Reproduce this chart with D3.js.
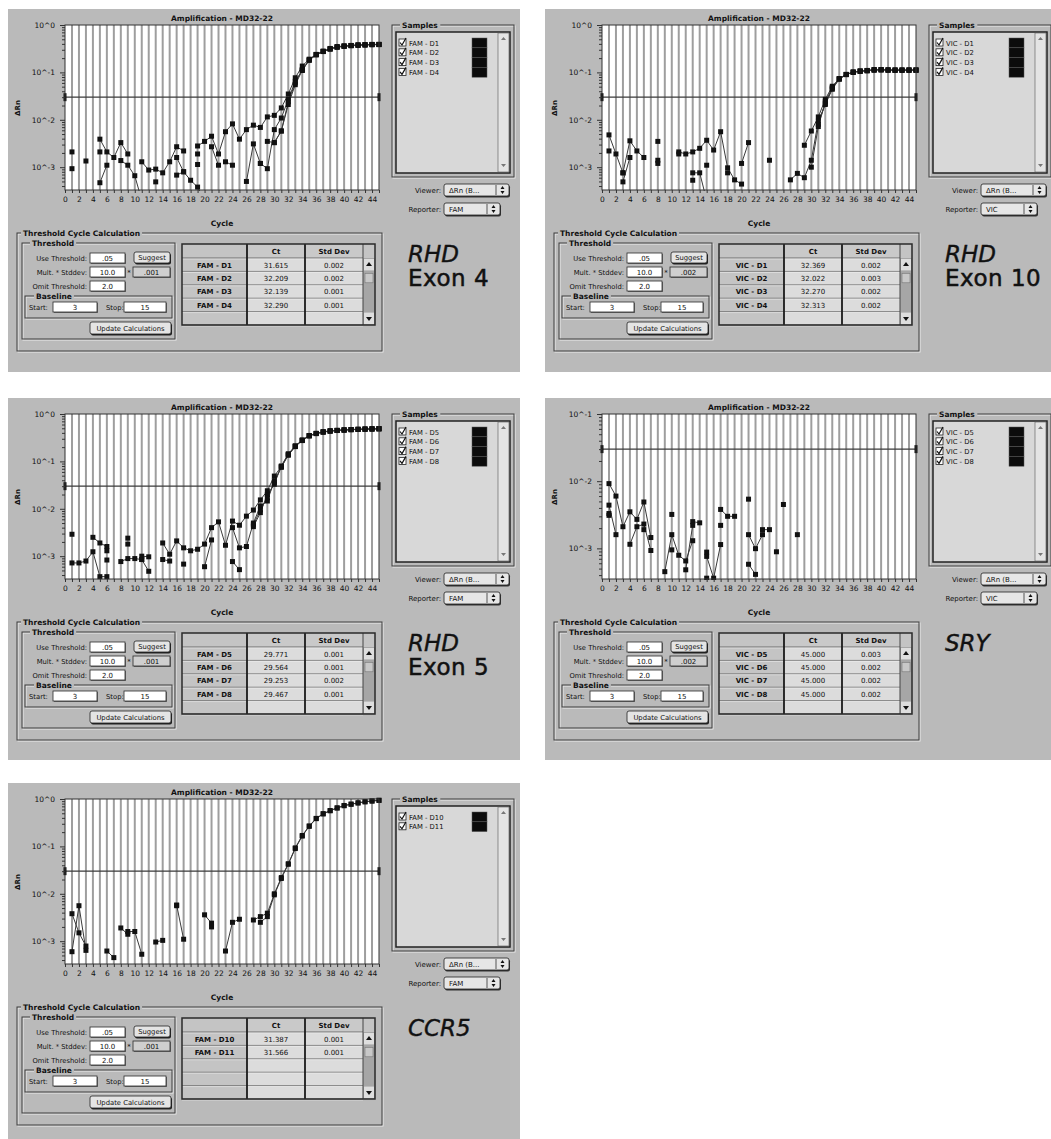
<!DOCTYPE html>
<html>
<head>
<meta charset="utf-8">
<script src="https://cdn.jsdelivr.net/npm/d3@7"></script>
<style>
  body { margin: 0; background: #fff; }
  svg text { font-family: "DejaVu Sans", sans-serif; fill: #111; }
</style>
</head>
<body>
<svg id="chart" width="1051" height="1139"></svg>
<script>
const N = null;
const cycles = d3.range(1, 46);
const xTicks = d3.range(0, 46);
const threshold = 0.03;
const titleText = 'Amplification - MD32-22';

// RHD exon 4 (FAM)
const exon4Names = ['FAM - D1', 'FAM - D2', 'FAM - D3', 'FAM - D4'];
const exon4Ct = ['31.615', '32.209', '32.139', '32.290'];
const exon4Sd = ['0.002', '0.002', '0.001', '0.001'];
const exon4D1 = [0.0021, N, 0.00135, N, 0.0039, 0.0021, 0.0016, 0.0033, 0.0019, N,
  0.0013, 0.00087, 0.00091, 0.00076, 0.0013, 0.0027, 0.0022, N, 0.0028, 0.0035,
  0.0045, 0.0019, 0.0056, 0.0082, 0.0039, 0.0062, 0.0077, 0.0069, 0.0115, 0.0124,
  0.0178, 0.035, 0.077, 0.136, 0.19, 0.24, 0.28, 0.32, 0.35, 0.36,
  0.37, 0.38, 0.385, 0.39, 0.39];
const exon4D2 = [0.00093, N, N, N, 0.00047, 0.0011, N, 0.00138, 0.0011, 0.00066,
  0.0002, N, 0.00049, N, N, 0.0016, 0.0008, 0.00053, 0.00038, 0.0002,
  N, N, 0.0013, 0.0011, N, 0.0005, 0.0031, 0.0012, 0.00093, 0.0062,
  0.0109, 0.027, 0.065, 0.11, 0.18, 0.235, 0.275, 0.31, 0.34, 0.355,
  0.365, 0.372, 0.378, 0.383, 0.385];
const exon4D3 = [N, N, N, N, 0.0021, N, N, N, N, N,
  N, N, N, N, N, 0.00068, 0.0008, N, 0.0019, N,
  0.0027, 0.0011, N, N, N, N, N, N, 0.0035, 0.0033,
  0.0058, 0.021, 0.055, 0.11, 0.185, 0.238, 0.278, 0.315, 0.345, 0.36,
  0.37, 0.378, 0.383, 0.388, 0.39];
const exon4D4 = [N, N, N, N, N, N, N, N, N, N,
  N, N, N, N, N, N, N, N, 0.00114, N,
  N, N, N, N, N, N, N, 0.0012, N, 0.0033,
  0.0058, 0.024, 0.06, 0.115, 0.182, 0.236, 0.277, 0.312, 0.342, 0.358,
  0.368, 0.376, 0.382, 0.386, 0.388];

// RHD exon 10 (VIC)
const exon10Names = ['VIC - D1', 'VIC - D2', 'VIC - D3', 'VIC - D4'];
const exon10Ct = ['32.369', '32.022', '32.270', '32.313'];
const exon10Sd = ['0.002', '0.003', '0.002', '0.002'];
const exon10D1 = [0.0048, 0.0019, 0.00076, 0.0036, 0.0022, 0.0016, N, 0.0035, N, N,
  0.0021, 0.0019, 0.0021, 0.0025, 0.0037, 0.0023, 0.0056, 0.00097, 0.00054, 0.00044,
  N, N, N, 0.0014, N, N, N, N, 0.0029, 0.0058,
  0.0115, 0.027, 0.051, 0.074, 0.091, 0.102, 0.107, 0.11, 0.115, 0.115,
  0.113, 0.112, 0.112, 0.112, 0.112];
const exon10D2 = [0.0022, N, 0.00049, 0.0016, N, N, N, 0.0014, N, N,
  0.0019, N, 0.00076, 0.00076, 0.0002, N, N, 0.00076, N, 0.0012,
  0.0033, N, N, N, N, N, 0.00054, 0.00074, 0.0006, 0.0014,
  0.0093, 0.021, 0.044, 0.072, 0.09, 0.1, 0.106, 0.108, 0.112, 0.113,
  0.112, 0.111, 0.111, 0.111, 0.111];
const exon10D3 = [N, N, 0.00076, N, N, N, N, 0.0012, N, N,
  N, N, 0.00053, N, 0.0011, N, N, N, N, N,
  N, N, N, N, N, N, N, N, N, 0.001,
  0.0072, 0.024, 0.048, 0.073, 0.09, 0.101, 0.106, 0.109, 0.113, 0.114,
  0.112, 0.112, 0.111, 0.112, 0.112];
const exon10D4 = [N, N, N, N, N, N, N, N, N, N,
  N, N, N, N, N, N, N, N, N, N,
  N, N, N, N, N, N, N, N, N, N,
  0.008, 0.022, 0.046, 0.073, 0.09, 0.101, 0.106, 0.109, 0.112, 0.113,
  0.112, 0.111, 0.112, 0.112, 0.112];

// RHD exon 5 (FAM)
const exon5Names = ['FAM - D5', 'FAM - D6', 'FAM - D7', 'FAM - D8'];
const exon5Ct = ['29.771', '29.564', '29.253', '29.467'];
const exon5Sd = ['0.001', '0.001', '0.002', '0.001'];
const exon5D5 = [0.0029, N, N, 0.0025, 0.0019, 0.0016, N, N, 0.0024, N,
  0.001, 0.00097, N, 0.0019, 0.0011, 0.0021, 0.0015, 0.0013, 0.0014, 0.0018,
  0.004, 0.0053, 0.0017, 0.0055, 0.0045, 0.007, 0.0094, 0.0154, 0.024, 0.049,
  0.078, 0.14, 0.21, 0.28, 0.35, 0.39, 0.42, 0.44, 0.45, 0.46,
  0.47, 0.475, 0.48, 0.485, 0.49];
const exon5D6 = [0.00072, 0.00072, 0.00079, 0.00124, 0.00037, 0.00037, N, 0.00077, 0.00089, 0.00089,
  0.00085, 0.00048, N, 0.00085, 0.00079, N, 0.00068, N, N, 0.0006,
  0.0022, N, N, 0.004, 0.0015, 0.0016, 0.005, 0.0115, 0.0146, 0.039,
  0.075, 0.135, 0.205, 0.275, 0.345, 0.385, 0.415, 0.435, 0.448, 0.458,
  0.466, 0.472, 0.478, 0.482, 0.486];
const exon5D7 = [N, N, N, N, N, 0.0013, N, N, 0.0018, N,
  0.00085, N, N, N, N, N, N, N, N, N,
  N, N, N, 0.00077, 0.00052, N, 0.0042, 0.0083, 0.02, 0.033,
  0.08, 0.145, 0.212, 0.282, 0.35, 0.39, 0.42, 0.44, 0.452, 0.462,
  0.47, 0.476, 0.481, 0.486, 0.49];
const exon5D8 = [N, N, N, N, N, 0.00083, N, N, N, N,
  N, N, N, N, N, N, N, N, N, N,
  N, N, N, N, N, N, 0.0046, 0.0095, 0.017, 0.036,
  0.077, 0.138, 0.208, 0.278, 0.348, 0.388, 0.418, 0.438, 0.45, 0.46,
  0.468, 0.474, 0.479, 0.484, 0.488];

// SRY (VIC)
const sryNames = ['VIC - D5', 'VIC - D6', 'VIC - D7', 'VIC - D8'];
const sryCt = ['45.000', '45.000', '45.000', '45.000'];
const srySd = ['0.003', '0.002', '0.002', '0.002'];
const sryD5 = [0.0092, 0.006, 0.0021, 0.0035, 0.0027, 0.0049, 0.00145, N, N, 0.0032,
  N, N, 0.0025, 0.0024, N, N, 0.0038, 0.003, 0.003, N,
  0.0054, N, 0.0019, 0.0019, N, 0.0045, N, 0.0016, N, N,
  N, N, N, N, N, N, N, N, N, N,
  N, N, N, N, N];
const sryD6 = [0.0044, 0.0016, N, 0.00115, 0.0021, 0.0023, 0.00093, N, 0.00045, 0.0016,
  0.00079, 0.00065, 0.0013, N, 0.00088, N, 0.0022, N, N, N,
  0.0016, 0.00099, 0.0016, N, 0.00089, N, N, N, N, N,
  N, N, N, N, N, N, N, N, N, N,
  N, N, N, N, N];
const sryD7 = [0.0033, N, N, N, N, 0.0019, N, N, N, 0.00095,
  N, 0.00048, 0.0022, N, 0.00076, 0.00036, 0.00114, N, N, N,
  0.00058, 0.00041, N, N, N, N, N, N, N, N,
  N, N, N, N, N, N, N, N, N, N,
  N, N, N, N, N];
const sryD8 = [0.0031, N, N, N, N, N, N, N, N, N,
  N, N, N, N, 0.00036, N, N, N, N, N,
  N, N, N, N, N, N, N, N, N, N,
  N, N, N, N, N, N, N, N, N, N,
  N, N, N, N, N];

// CCR5 (FAM)
const ccr5Names = ['FAM - D10', 'FAM - D11'];
const ccr5Ct = ['31.387', '31.566'];
const ccr5Sd = ['0.001', '0.001'];
const ccr5D10 = [0.0038, 0.0015, 0.00079, N, N, 0.00062, 0.00045, N, 0.0016, 0.0016,
  0.00053, N, 0.00096, 0.00104, N, 0.0058, 0.0011, N, N, 0.0036,
  0.0024, N, 0.00062, 0.0025, 0.0029, N, 0.0028, 0.0033, 0.0039, 0.01,
  0.022, 0.043, 0.093, 0.17, 0.27, 0.39, 0.49, 0.57, 0.65, 0.73,
  0.78, 0.83, 0.88, 0.91, 0.94];
const ccr5D11 = [0.0006, 0.0056, 0.00064, N, N, N, N, 0.0019, 0.0014, N,
  N, N, N, N, N, 0.0056, N, N, N, N,
  0.002, N, N, N, N, N, N, 0.0025, 0.0033, 0.0095,
  0.021, 0.042, 0.09, 0.165, 0.265, 0.385, 0.485, 0.565, 0.645, 0.72,
  0.775, 0.825, 0.87, 0.905, 0.935];

const panels = [
  { box: {x: 8, y: 9, w: 512, h: 363}, yDomain: [0.00033, 1], reporter: 'FAM', mult: '.001',
    names: exon4Names, ct: exon4Ct, sd: exon4Sd, series: [exon4D1, exon4D2, exon4D3, exon4D4],
    label: ['RHD', 'Exon 4'] },
  { box: {x: 545, y: 9, w: 506, h: 363}, yDomain: [0.00033, 1], reporter: 'VIC', mult: '.002',
    names: exon10Names, ct: exon10Ct, sd: exon10Sd, series: [exon10D1, exon10D2, exon10D3, exon10D4],
    label: ['RHD', 'Exon 10'] },
  { box: {x: 8, y: 398, w: 512, h: 362}, yDomain: [0.00033, 1], reporter: 'FAM', mult: '.001',
    names: exon5Names, ct: exon5Ct, sd: exon5Sd, series: [exon5D5, exon5D6, exon5D7, exon5D8],
    label: ['RHD', 'Exon 5'] },
  { box: {x: 545, y: 398, w: 506, h: 362}, yDomain: [0.00035, 0.1], reporter: 'VIC', mult: '.002',
    names: sryNames, ct: sryCt, sd: srySd, series: [sryD5, sryD6, sryD7, sryD8],
    label: ['SRY'] },
  { box: {x: 8, y: 783, w: 512, h: 356}, yDomain: [0.00033, 1], reporter: 'FAM', mult: '.001',
    names: ccr5Names, ct: ccr5Ct, sd: ccr5Sd, series: [ccr5D10, ccr5D11],
    label: ['CCR5'] }
];

const svg = d3.select('#chart');
const BG = '#bababa';
const P = {l: 57, r: 371, t: 16, b: 181};

function txt(g, x, y, s, size, opts = {}) {
  return g.append('text').attr('x', x).attr('y', y).attr('font-size', size)
    .attr('font-weight', opts.bold ? 'bold' : null)
    .attr('text-anchor', opts.anchor || 'start').text(s);
}

// engraved group frame with a title sitting on the top edge
function frame(g, x, y, w, h, title, tx) {
  g.append('rect').attr('x', x + 1).attr('y', y + 1).attr('width', w).attr('height', h)
    .attr('fill', 'none').attr('stroke', '#ececec');
  g.append('rect').attr('x', x).attr('y', y).attr('width', w).attr('height', h)
    .attr('fill', 'none').attr('stroke', '#3c3c3c');
  if (title) {
    const t = txt(g, tx, y + 3, title, 7.5, {bold: true});
    const bb = t.node().getBBox();
    g.insert('rect', () => t.node()).attr('x', bb.x - 2).attr('y', y - 2)
      .attr('width', bb.width + 4).attr('height', 5).attr('fill', BG);
  }
}

function field(g, x, y, w, h, s, fill) {
  g.append('rect').attr('x', x + 1).attr('y', y + 1).attr('width', w).attr('height', h).attr('fill', '#6a6a6a');
  g.append('rect').attr('x', x).attr('y', y).attr('width', w).attr('height', h)
    .attr('fill', fill || '#fff').attr('stroke', '#2a2a2a').attr('stroke-width', 0.8);
  txt(g, x + w / 2, y + h - 2.2, s, 7, {anchor: 'middle'});
}

function button(g, x, y, w, h, s) {
  g.append('rect').attr('x', x + 1).attr('y', y + 1.5).attr('width', w).attr('height', h).attr('rx', 2).attr('fill', '#222');
  g.append('rect').attr('x', x).attr('y', y).attr('width', w).attr('height', h).attr('rx', 2)
    .attr('fill', '#e4e4e4').attr('stroke', '#222').attr('stroke-width', 0.8);
  txt(g, x + w / 2, y + h - 3, s, 6.8, {anchor: 'middle'});
}

function popup(g, x, y, w, h, s) {
  g.append('rect').attr('x', x + 1).attr('y', y + 1.5).attr('width', w).attr('height', h).attr('rx', 2).attr('fill', '#333');
  g.append('rect').attr('x', x).attr('y', y).attr('width', w).attr('height', h).attr('rx', 2)
    .attr('fill', '#e6e6e6').attr('stroke', '#222').attr('stroke-width', 0.8);
  g.append('line').attr('x1', x + w - 13).attr('x2', x + w - 13).attr('y1', y + 1).attr('y2', y + h - 1)
    .attr('stroke', '#555');
  txt(g, x + 5, y + h - 3, s, 7);
  const ax = x + w - 6.5, ay = y + h / 2;
  g.append('path').attr('d', `M${ax - 2},${ay - 1}L${ax + 2},${ay - 1}L${ax},${ay - 4}Z M${ax - 2},${ay + 1}L${ax + 2},${ay + 1}L${ax},${ay + 4}Z`)
    .attr('fill', '#111');
}

function drawPanel(p, idx) {
  const b = p.box;
  const g = svg.append('g').attr('transform', `translate(${b.x},${b.y})`);
  g.append('rect').attr('width', b.w).attr('height', b.h).attr('fill', BG);

  const x = d3.scaleLinear().domain([0, 45]).range([P.l, P.r]);
  const y = d3.scaleLog().domain(p.yDomain).range([P.b, P.t]);

  // plot area with one gray grid line per cycle
  g.append('rect').attr('x', P.l).attr('y', P.t).attr('width', P.r - P.l).attr('height', P.b - P.t).attr('fill', '#fff');
  g.append('g').selectAll('line').data(d3.range(1, 45)).join('line')
    .attr('x1', d => x(d)).attr('x2', d => x(d)).attr('y1', P.t).attr('y2', P.b)
    .attr('stroke', '#9e9e9e').attr('stroke-width', 2);

  // threshold line with end handles
  g.append('line').attr('x1', P.l).attr('x2', P.r).attr('y1', y(threshold)).attr('y2', y(threshold))
    .attr('stroke', '#3a3a3a').attr('stroke-width', 1.3);
  g.append('rect').attr('x', x(0) - 1.5).attr('y', y(threshold) - 4).attr('width', 3).attr('height', 8).attr('fill', '#111');
  g.append('rect').attr('x', x(45) - 1.5).attr('y', y(threshold) - 4).attr('width', 3).attr('height', 8).attr('fill', '#111');

  // data, clipped to the plot
  const clipId = 'clip' + idx;
  g.append('clipPath').attr('id', clipId).append('rect')
    .attr('x', P.l).attr('y', P.t - 3).attr('width', P.r - P.l + 3).attr('height', P.b - P.t + 4);
  const dataG = g.append('g').attr('clip-path', `url(#${clipId})`);
  const line = d3.line().defined(d => d.v != null).x(d => x(d.c)).y(d => y(d.v));
  p.series.forEach(vals => {
    const pts = cycles.map((c, i) => ({c: c, v: vals[i]}));
    dataG.append('path').datum(pts).attr('d', line).attr('fill', 'none')
      .attr('stroke', '#3a3a3a').attr('stroke-width', 1);
  });
  p.series.forEach(vals => {
    const pts = cycles.map((c, i) => ({c: c, v: vals[i]})).filter(d => d.v != null);
    dataG.selectAll(null).data(pts).join('rect')
      .attr('x', d => x(d.c) - 2.5).attr('y', d => y(d.v) - 2.5).attr('width', 5).attr('height', 5)
      .attr('fill', '#111');
  });

  g.append('rect').attr('x', P.l).attr('y', P.t).attr('width', P.r - P.l).attr('height', P.b - P.t)
    .attr('fill', 'none').attr('stroke', '#333');

  // axes
  const isMajor = v => Math.abs(Math.log10(v) - Math.round(Math.log10(v))) < 1e-9;
  const yAxis = d3.axisLeft(y).tickValues(y.ticks())
    .tickFormat(v => isMajor(v) ? '10^' + Math.round(Math.log10(v)) : '')
    .tickSize(4).tickPadding(6);
  const ya = g.append('g').attr('transform', `translate(${P.l},0)`).call(yAxis);
  ya.select('.domain').remove();
  ya.selectAll('.tick line').attr('x2', v => isMajor(v) ? -5 : -3).attr('stroke', '#333');
  ya.selectAll('.tick text').attr('font-size', 7.5).attr('font-family', null).attr('fill', '#222');

  const xAxis = d3.axisBottom(x).tickValues(xTicks)
    .tickFormat(d => d % 2 === 0 && d <= 44 ? d : '').tickSize(3).tickPadding(4);
  const xa = g.append('g').attr('transform', `translate(0,${P.b})`).call(xAxis);
  xa.select('.domain').remove();
  xa.selectAll('.tick line').attr('stroke', '#333');
  xa.selectAll('.tick text').attr('font-size', 7.5).attr('font-family', null).attr('fill', '#222');

  txt(g, (P.l + P.r) / 2, 12, titleText, 7.5, {bold: true, anchor: 'middle'});
  txt(g, (P.l + P.r) / 2, 217, 'Cycle', 7.5, {bold: true, anchor: 'middle'});
  g.append('text').attr('transform', 'translate(12,99) rotate(-90)').attr('text-anchor', 'middle')
    .attr('font-size', 7).attr('font-weight', 'bold').text('ΔRn');

  // Samples list
  frame(g, 384, 16, 122, 152, 'Samples', 394);
  g.append('rect').attr('x', 388).attr('y', 23).attr('width', 114).attr('height', 141)
    .attr('fill', '#d8d8d8').attr('stroke', '#222').attr('stroke-width', 1.5);
  g.append('rect').attr('x', 490).attr('y', 24).attr('width', 11).attr('height', 139)
    .attr('fill', '#e4e4e4').attr('stroke', '#555').attr('stroke-width', 0.6);
  g.append('path').attr('d', 'M493,31L498,31L495.5,28Z M493,155L498,155L495.5,158Z').attr('fill', '#777');
  p.names.forEach((n, i) => {
    const cy = 34 + i * 9.8;
    g.append('rect').attr('x', 391).attr('y', cy - 4).attr('width', 7).attr('height', 7)
      .attr('fill', '#fff').attr('stroke', '#222').attr('stroke-width', 0.8);
    g.append('path').attr('d', `M392,${cy - 0.5}L394,${cy + 2}L398,${cy - 5}`).attr('fill', 'none')
      .attr('stroke', '#111').attr('stroke-width', 1.2);
    txt(g, 401, cy + 2.5, n, 6.8);
    g.append('rect').attr('x', 464).attr('y', cy - 5).attr('width', 15).attr('height', 9.8)
      .attr('fill', '#0c0c0c').attr('stroke', '#555').attr('stroke-width', 0.5);
  });
  txt(g, 433, 184, 'Viewer:', 7, {anchor: 'end'});
  popup(g, 436, 175, 65, 12, 'ΔRn (B...');
  txt(g, 433, 203, 'Reporter:', 7, {anchor: 'end'});
  popup(g, 436, 194, 56, 12, p.reporter);

  // Threshold cycle calculation block
  frame(g, 9, 224, 365, 118, 'Threshold Cycle Calculation', 15);
  frame(g, 14, 234, 153, 96, 'Threshold', 24);
  txt(g, 79, 252, 'Use Threshold:', 6.8, {anchor: 'end'});
  field(g, 82, 244, 35, 10, '.05');
  button(g, 126, 243, 36, 11, 'Suggest');
  txt(g, 79, 266, 'Mult. * Stddev:', 6.8, {anchor: 'end'});
  field(g, 82, 258, 35, 10, '10.0');
  txt(g, 121, 266, '*', 7, {anchor: 'middle'});
  field(g, 125, 258, 37, 10, p.mult, '#cfcfcf');
  txt(g, 79, 280, 'Omit Threshold:', 6.8, {anchor: 'end'});
  field(g, 82, 272, 35, 10, '2.0');
  frame(g, 17, 287, 147, 22, 'Baseline', 28);
  txt(g, 21, 301, 'Start:', 6.8);
  field(g, 45, 293, 44, 10, '3');
  txt(g, 98, 301, 'Stop:', 6.8);
  field(g, 116, 293, 42, 10, '15');
  button(g, 82, 313, 81, 12, 'Update Calculations');

  // Ct table
  const cols = [174, 239, 297, 355, 367];
  const headT = 235, headB = 249, rowH = 13.4;
  const nRows = 5;
  const tb = headB + nRows * rowH;
  g.append('rect').attr('x', cols[0]).attr('y', headT).attr('width', cols[4] - cols[0]).attr('height', tb - headT)
    .attr('fill', '#c4c4c4');
  g.append('rect').attr('x', cols[1]).attr('y', headT).attr('width', cols[3] - cols[1]).attr('height', headB - headT)
    .attr('fill', '#c9c9c9');
  g.append('rect').attr('x', cols[1]).attr('y', headB).attr('width', cols[3] - cols[1]).attr('height', tb - headB)
    .attr('fill', '#dcdcdc');
  g.append('rect').attr('x', cols[3]).attr('y', headB).attr('width', cols[4] - cols[3]).attr('height', tb - headB)
    .attr('fill', '#a6a6a6');
  d3.range(nRows + 1).forEach(i => {
    const ry = headB + i * rowH;
    g.append('line').attr('x1', cols[0]).attr('x2', cols[3]).attr('y1', ry).attr('y2', ry)
      .attr('stroke', '#6e6e6e').attr('stroke-width', i === 0 ? 1.2 : 0.8);
    g.append('line').attr('x1', cols[0]).attr('x2', cols[3]).attr('y1', ry + 1).attr('y2', ry + 1)
      .attr('stroke', '#efefef').attr('stroke-width', 0.6);
  });
  [cols[1], cols[2]].forEach(cx => {
    g.append('line').attr('x1', cx).attr('x2', cx).attr('y1', headT).attr('y2', tb)
      .attr('stroke', '#1a1a1a').attr('stroke-width', 1.8);
  });
  g.append('line').attr('x1', cols[3]).attr('x2', cols[3]).attr('y1', headT).attr('y2', tb)
    .attr('stroke', '#444').attr('stroke-width', 1);
  g.append('rect').attr('x', cols[3] + 1).attr('y', headB + 1).attr('width', 10).attr('height', rowH - 2).attr('fill', '#dedede');
  g.append('rect').attr('x', cols[3] + 1).attr('y', tb - rowH + 1).attr('width', 10).attr('height', rowH - 2).attr('fill', '#dedede');
  g.append('rect').attr('x', cols[3] + 2).attr('y', headB + rowH + 2).attr('width', 8).attr('height', rowH - 4)
    .attr('fill', '#c8c8c8').attr('stroke', '#777').attr('stroke-width', 0.6);
  g.append('path').attr('d', `M${cols[3] + 3},${headB + 8}L${cols[3] + 9},${headB + 8}L${cols[3] + 6},${headB + 4}Z M${cols[3] + 3},${tb - 8}L${cols[3] + 9},${tb - 8}L${cols[3] + 6},${tb - 4}Z`)
    .attr('fill', '#111');
  g.append('rect').attr('x', cols[0]).attr('y', headT).attr('width', cols[4] - cols[0]).attr('height', tb - headT)
    .attr('fill', 'none').attr('stroke', '#2a2a2a').attr('stroke-width', 1.5);
  txt(g, (cols[1] + cols[2]) / 2, headB - 4, 'Ct', 7, {bold: true, anchor: 'middle'});
  txt(g, (cols[2] + cols[3]) / 2, headB - 4, 'Std Dev', 7, {bold: true, anchor: 'middle'});
  p.names.forEach((n, i) => {
    const ry = headB + i * rowH + rowH - 3.8;
    txt(g, (cols[0] + cols[1]) / 2, ry, n, 7, {bold: true, anchor: 'middle'});
    txt(g, (cols[1] + cols[2]) / 2, ry, p.ct[i], 7, {anchor: 'middle'});
    txt(g, (cols[2] + cols[3]) / 2, ry, p.sd[i], 7, {anchor: 'middle'});
  });

  // gene / exon label
  g.append('text').attr('x', 400).attr('y', 253).attr('font-size', 23).attr('font-style', 'italic')
    .attr('font-family', '"Liberation Sans", Arial, sans-serif').attr('fill', '#111')
    .attr('stroke', '#111').attr('stroke-width', 0.4).text(p.label[0]);
  if (p.label[1]) {
    g.append('text').attr('x', 400).attr('y', 277).attr('font-size', 23).attr('letter-spacing', 0.5)
      .attr('font-family', '"Liberation Sans", Arial, sans-serif').attr('fill', '#111')
      .attr('stroke', '#111').attr('stroke-width', 0.5).text(p.label[1]);
  }
}

panels.forEach(drawPanel);
</script>
</body>
</html>
